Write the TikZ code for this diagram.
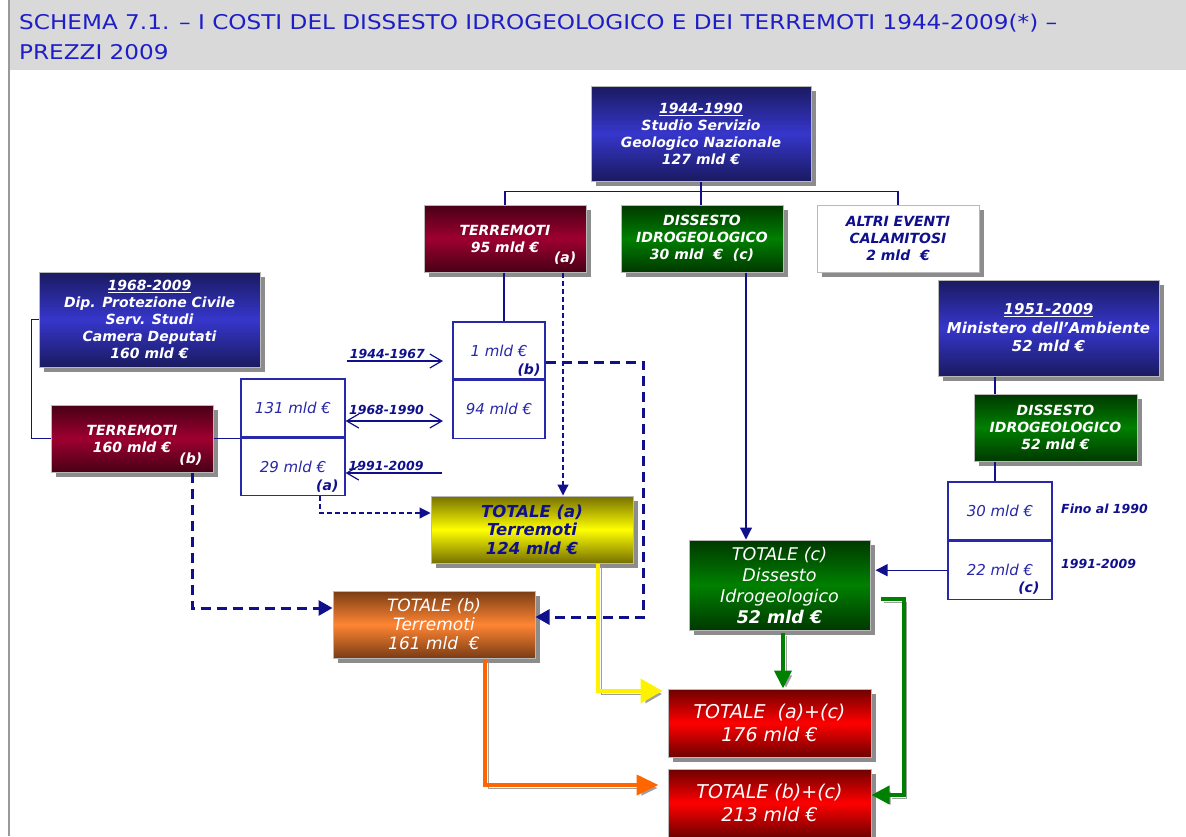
\documentclass[tikz,border=0pt]{standalone}
\usepackage{fontspec}
\setmainfont{DejaVu Sans}
\newfontfamily\titlefont[FakeStretch=1.14]{DejaVu Sans}
\usetikzlibrary{arrows.meta, positioning, shadows, calc}

\definecolor{navy}{RGB}{16,16,140}
\definecolor{cellblue}{RGB}{40,40,170}
\definecolor{titleblue}{RGB}{30,30,200}
\definecolor{bluedk}{RGB}{26,26,96}
\definecolor{bluemd}{RGB}{54,54,204}
\definecolor{reddk}{RGB}{72,0,22}
\definecolor{redmd}{RGB}{158,0,48}
\definecolor{greendk}{RGB}{0,56,0}
\definecolor{greenmd}{RGB}{0,128,0}
\definecolor{olive}{RGB}{118,112,0}
\definecolor{brown}{RGB}{122,60,20}
\definecolor{orangemd}{RGB}{255,133,51}
\definecolor{totred}{RGB}{110,0,0}
\definecolor{arrgreen}{RGB}{0,128,0}
\definecolor{arrorange}{RGB}{255,102,0}

\begin{document}
\begin{tikzpicture}[x=1pt, y=-1pt,
  titletext/.style={anchor=base west, inner sep=0pt, text=titleblue, font=\titlefont\fontsize{20.3}{24}\selectfont},
  box/.style={draw=gray!55, line width=1pt, align=center, inner sep=2pt, text=white,
    font=\fontsize{14}{17}\selectfont\bfseries\itshape,
    drop shadow={shadow xshift=5pt, shadow yshift=-5pt, fill=gray!90, opacity=1}},
  blueshade/.style={top color=bluedk, bottom color=bluedk, middle color=bluemd},
  redshade/.style={top color=reddk, bottom color=reddk, middle color=redmd},
  greenshade/.style={top color=greendk, bottom color=greendk, middle color=greenmd},
  cell/.style={draw=cellblue, line width=1.2pt, fill=white, text=cellblue, inner sep=0pt,
    font=\fontsize{15}{17}\selectfont\itshape},
  tag/.style={anchor=base east, inner sep=0pt, font=\fontsize{14}{16}\selectfont\bfseries\itshape},
  yearlbl/.style={text=navy, inner sep=1pt, font=\fontsize{12.5}{14}\selectfont\bfseries\itshape},
  link/.style={draw=navy, line width=1.2pt},
  barb/.style={link, -{Straight Barb[length=12pt, width=14pt]}},
  solidarr/.style={link, -{Triangle[length=12pt, width=12pt]}},
  dasharr/.style={link, dash pattern=on 5pt off 3pt, -{Triangle[length=11pt, width=11pt]}},
  thickdash/.style={draw=navy, line width=3pt, dash pattern=on 10pt off 6pt, -{Triangle[length=14pt, width=15pt]}},
  fat/.style={line width=4pt, line join=miter,
    preaction={draw=gray!75, transform canvas={xshift=3pt, yshift=-3pt}}}]

  \useasboundingbox (0,0) rectangle (1186,836);
  \clip (0,0) rectangle (1186,836);

  % Title
  \fill[black!15] (9,0) rectangle (1186,70);
  \draw[gray!80, line width=1.5pt] (9,0) -- (9,836);
  \node[titletext] (title1) at (19,29) {SCHEMA 7.1. – I COSTI DEL DISSESTO IDROGEOLOGICO E DEI TERREMOTI 1944-2009(*) –};
  \node[titletext] (title2) at (19,59) {PREZZI 2009};

  % Sources
  \node[box, blueshade, minimum width=220pt, minimum height=95pt] (sgn) at (701,133.5)
    {\underline{1944-1990}\\Studio Servizio\\Geologico Nazionale\\127 mld €};
  \node[box, blueshade, minimum width=221pt, minimum height=95pt] (dpc) at (149.5,319.5)
    {\underline{1968-2009}\\Dip. Protezione Civile\\Serv. Studi\\Camera Deputati\\160 mld €};
  \node[box, blueshade, minimum width=221pt, minimum height=96pt, font=\fontsize{15}{18.5}\selectfont\bfseries\itshape] (amb) at (1048.5,328)
    {\underline{1951-2009}\\Ministero dell’Ambiente\\52 mld €};

  % Second level
  \node[box, redshade, minimum width=162pt, minimum height=67pt] (terr95) at (505,238.5) {TERREMOTI\\95 mld €};
  \node[tag, text=white] (tag95) at ($(terr95.south east)+(-10,-10)$) {(a)};
  \node[box, greenshade, minimum width=162pt, minimum height=67pt] (diss30) at (702,238.5) {DISSESTO\\IDROGEOLOGICO\\30 mld~~€~~(c)};
  \node[box, fill=white, text=navy, minimum width=162pt, minimum height=67pt] (altri) at (898,238.5) {ALTRI EVENTI\\CALAMITOSI\\2 mld~~€};
  \node[box, redshade, minimum width=162pt, minimum height=67pt] (terr160) at (132,438.5) {TERREMOTI\\160 mld €};
  \node[tag, text=white] (tag160) at ($(terr160.south east)+(-11,-9)$) {(b)};
  \node[box, greenshade, minimum width=163pt, minimum height=67pt] (diss52) at (1055.5,427.5) {DISSESTO\\IDROGEOLOGICO\\52 mld €};

  % Period cells
  \node[cell, minimum width=104pt, minimum height=58pt] (s131) at (293,408) {131 mld €};
  \node[cell, minimum width=104pt, minimum height=57pt, below=0pt of s131] (s29) {29 mld €};
  \node[tag, text=navy] (tag29) at ($(s29.south east)+(-7,-5)$) {(a)};
  \node[cell, minimum width=92pt, minimum height=57pt] (s1) at (499,350.5) {1 mld €};
  \node[tag, text=navy] (tag1) at ($(s1.south east)+(-5,-5)$) {(b)};
  \node[cell, minimum width=92pt, minimum height=58pt, below=0pt of s1] (s94) {94 mld €};
  \node[cell, minimum width=104pt, minimum height=58pt] (s30) at (1000,511) {30 mld €};
  \node[cell, minimum width=104pt, minimum height=58pt, below=0pt of s30] (s22) {22 mld €};
  \node[tag, text=navy] (tag22) at ($(s22.south east)+(-13,-7)$) {(c)};
  \node[yearlbl, anchor=base west] (fino) at (1060,513) {Fino al 1990};
  \node[yearlbl, anchor=base west] (recent) at (1060,568) {1991-2009};

  % Totals
  \node[box, top color=olive, bottom color=olive, middle color=yellow, text=navy,
    font=\fontsize{16.5}{18.5}\selectfont\bfseries\itshape, minimum width=202pt, minimum height=67pt] (tota) at (532,529.5)
    {TOTALE (a)\\Terremoti\\124 mld €};
  \node[box, top color=brown, bottom color=brown, middle color=orangemd,
    font=\fontsize{17}{19}\selectfont\itshape, minimum width=202pt, minimum height=67pt] (totb) at (434,624.5)
    {TOTALE (b)\\Terremoti\\161 mld~~€};
  \node[box, greenshade, font=\fontsize{17.5}{21}\selectfont\itshape, minimum width=181pt, minimum height=90pt] (totc) at (779.5,585)
    {TOTALE (c)\\Dissesto\\Idrogeologico\\\textbf{52 mld €}};
  \node[box, top color=totred, bottom color=totred, middle color=red,
    font=\fontsize{19}{23}\selectfont\itshape, minimum width=203pt, minimum height=68pt] (totac) at (769.5,723)
    {TOTALE~~(a)+(c)\\176 mld €};
  \node[box, top color=totred, bottom color=totred, middle color=red,
    font=\fontsize{19}{23}\selectfont\itshape, minimum width=203pt, minimum height=68pt] (totbc) at (769.5,803)
    {TOTALE (b)+(c)\\213 mld €};

  % Hierarchy links
  \coordinate (tlink) at (504,0);
  \coordinate (dlink) at (563,0);
  \coordinate (clink) at (746,0);
  \coordinate (mlink) at (995,0);
  \coordinate (alink) at (320,0);
  \coordinate (blink) at (192,0);
  \draw[link] (sgn.south) -- (sgn.south |- diss30.north);
  \draw[link] (terr95.north) -- ++(0,-13) -| (altri.north);
  \draw[link] (dpc.west) -- ++(-7,0) |- (terr160.west);
  \draw[link] (terr160.east) -- (terr160.east -| s131.west);
  \draw[link] (tlink |- terr95.south) -- (tlink |- s1.north);
  \draw[link] (mlink |- amb.south) -- (mlink |- diss52.north);
  \draw[link] (mlink |- diss52.south) -- (mlink |- s30.north);

  % Period arrows
  \coordinate (y1) at (347,361);
  \coordinate (y2) at (443,421);
  \coordinate (y3) at (442,473);
  \draw[barb] (y1) -- node[yearlbl, above=1pt, pos=0.42] (lbl1) {1944-1967} (y1 -| y2);
  \draw[link, {Straight Barb[length=12pt, width=14pt]}-{Straight Barb[length=12pt, width=14pt]}]
    (s131.east |- y2) -- node[yearlbl, above=5pt, pos=0.42] (lbl2) {1968-1990} (y2);
  \draw[barb] (y3) -- node[yearlbl, above=1pt, pos=0.58] (lbl3) {1991-2009} (y3 -| s29.east);

  % Towards the totals
  \draw[dasharr] (dlink |- terr95.south) -- (dlink |- tota.north);
  \draw[dasharr] (alink |- s29.south) |- (tota.west |- 0,513);
  \draw[thickdash] (s1.east |- 0,362) -- ++(98,0) |- (totb.east |- 0,617);
  \draw[thickdash] (blink |- terr160.south) |- (totb.west |- 0,608);
  \draw[solidarr] (clink |- diss30.south) -- (clink |- totc.north);
  \draw[solidarr, shorten >=5pt] (s22.west) -- (s22.west -| totc.east);

  % Sums
  \draw[fat, yellow, -{Triangle[length=22pt, width=24pt]}, shorten >=5pt]
    (598,0 |- tota.south) |- (totac.west |- 0,691);
  \draw[fat, arrorange, -{Triangle[length=22pt, width=20pt]}, shorten >=9pt]
    (485,0 |- totb.south) |- (totbc.west |- 0,785);
  \draw[fat, arrgreen, -{Triangle[length=18pt, width=17pt]}, shorten <=2pt]
    (783,0 |- totc.south) -- (783,0 |- totac.north);
  \draw[fat, arrgreen, -{Triangle[length=18pt, width=18pt]}]
    ($(totc.east |- 0,599)+(10,0)$) -- ++(23,0) |- (totbc.east |- 0,795);
\end{tikzpicture}
\end{document}
